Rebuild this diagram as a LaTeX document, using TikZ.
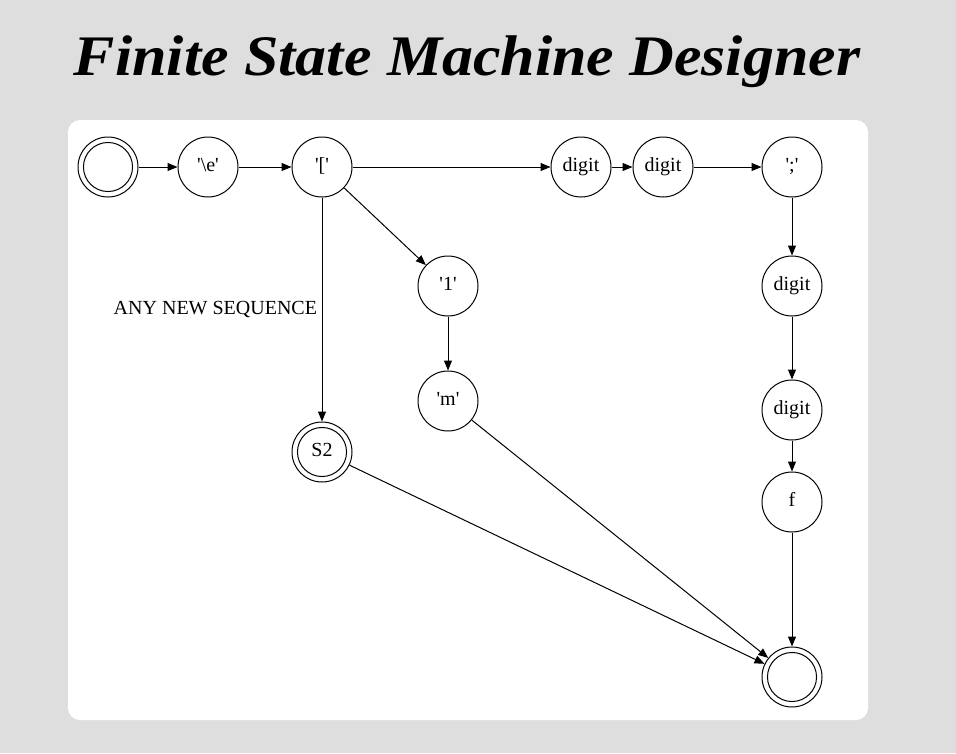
\documentclass[tikz,border=0pt]{standalone}
\usepackage{fontspec}
\setmainfont{Liberation Serif}
\usetikzlibrary{arrows.meta}
\definecolor{pagegray}{RGB}{222,222,222}
\newcommand{\q}{\textquotesingle}

\begin{document}
\begin{tikzpicture}[x=0.75pt,y=-0.75pt,line width=0.75pt,>={Triangle[length=7.5pt,width=6pt]},
  font=\fontsize{15}{18}\selectfont,
  state/.style={circle,draw,minimum size=45pt,inner sep=0pt,text height=0.8em,text depth=0.2em},
  accept/.style={path picture={\draw (path picture bounding box.center) circle (18.4pt);}}]
\fill[pagegray] (0,0) rectangle (956,753);
\fill[white,rounded corners=9pt] (68,120) rectangle (868,720);
\node[anchor=base,xscale=1.08,font=\fontsize{43}{50}\selectfont\bfseries\itshape] (title) at (467,75) {Finite State Machine Designer};

% top row
\node[state,accept] (start) at (108,167) {};
\node[state] (esc) at (208,167) {\q\textbackslash e\q};
\node[state] (brk) at (322,167) {\q[\q};
\node[state] (d1) at (581,167) {digit};
\node[state] (d2) at (663,167) {digit};
\node[state] (semi) at (792,167) {\q;\q};

% branches
\node[state] (one) at (448,286) {\q1\q};
\node[state] (m) at (448,401) {\q m\q};
\node[state,accept] (s2) at (322,452) {S2};
\node[state] (d3) at (792,286) {digit};
\node[state] (d4) at (792,410) {digit};
\node[state] (f) at (792,502) {f};
\node[state,accept] (final) at (792,677) {};

\draw[->] (start) -- (esc);
\draw[->] (esc) -- (brk);
\draw[->] (brk) -- (d1);
\draw[->] (d1) -- (d2);
\draw[->] (d2) -- (semi);
\draw[->] (brk) -- (one);
\draw[->] (one) -- (m);
\draw[->] (brk) -- node[left] {ANY NEW SEQUENCE} (s2);
\draw[->] (semi) -- (d3);
\draw[->] (d3) -- (d4);
\draw[->] (d4) -- (f);
\draw[->] (f) -- (final);
\draw[->] (s2) -- (final);
\draw[->] (m) -- (final);
\end{tikzpicture}
\end{document}
